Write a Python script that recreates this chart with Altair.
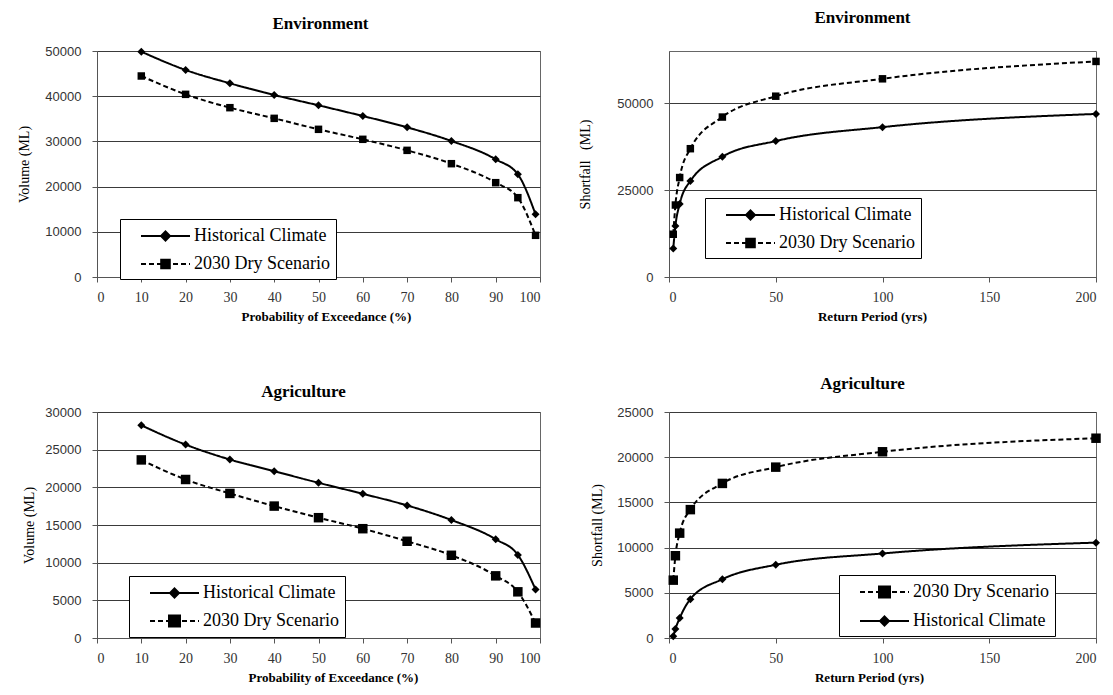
import altair as alt
import pandas as pd

# ---------------- data ----------------
HIST = "Historical Climate"
DRY = "2030 Dry Scenario"

# Probability of exceedance panels (%)
pe = [10, 20, 30, 40, 50, 60, 70, 80, 90, 95, 99]
env_hist = [49850, 45800, 42850, 40270, 37980, 35620, 33110, 30090, 26030, 22710, 13860]
env_dry = [44470, 40410, 37460, 35100, 32670, 30460, 28020, 25070, 20870, 17550, 9220]
agr_hist = [28230, 25670, 23690, 22140, 20600, 19140, 17600, 15660, 13100, 11030, 6440]
agr_dry = [23640, 21040, 19190, 17510, 15970, 14510, 12840, 10980, 8250, 6130, 1990]

# Return period panels (yrs)
rp = [2, 3, 5, 10, 25, 50, 100, 200]
env_sf_hist = [8200, 14700, 21000, 27600, 34600, 39100, 43100, 46900]
env_sf_dry = [12300, 20700, 28600, 36900, 46000, 52000, 57000, 62000]
agr_sf_hist = [180, 1000, 2200, 4300, 6500, 8100, 9350, 10550]
agr_sf_dry = [6400, 9100, 11600, 14200, 17100, 18900, 20600, 22100]

pe_ticks = [0, 10, 20, 30, 40, 50, 60, 70, 80, 90, 100]
rp_ticks = [0, 50, 100, 150, 200]


def frame(xs, hist, dry):
    rows = [{"x": x, "y": y, "s": HIST} for x, y in zip(xs, hist)]
    rows += [{"x": x, "y": y, "s": DRY} for x, y in zip(xs, dry)]
    return pd.DataFrame(rows)


# legend glyphs: a line segment with the series marker in its middle
# (units of 10 px; dashes of the dry line are drawn as separate sub-paths)
def legend_paths(sq_half):
    c, d = 2.85, 0.45
    hist_path = f"M0.4,0L5.3,0M{c},{-d}L{c + d},0L{c},{d}L{c - d},0Z"
    dashes = "M0.4,0L0.9,0M1.2,0L1.7,0M2.0,0L2.5,0M2.8,0L3.3,0M3.6,0L4.1,0M4.4,0L4.9,0M5.2,0L5.3,0"
    h = sq_half
    dry_path = (dashes + f"M{c - h:.3f},{-h:.3f}L{c + h:.3f},{-h:.3f}"
                f"L{c + h:.3f},{h:.3f}L{c - h:.3f},{h:.3f}Z")
    return hist_path, dry_path


def panel(df, title, title_offset, title_dx, xtitle, xtitle_x, xdomain, xticks,
          ytitle, ydomain, yticks, width, height, order, lx, ly, sq_size, sq_half, ytitle_pad):
    hist_path, dry_path = legend_paths(sq_half)
    x = alt.X("x:Q", title=xtitle,
              scale=alt.Scale(domain=xdomain, nice=False, zero=False),
              axis=alt.Axis(values=xticks, grid=False, titleX=xtitle_x))
    y = alt.Y("y:Q", title=ytitle,
              scale=alt.Scale(domain=ydomain, nice=False),
              axis=alt.Axis(values=yticks, grid=True, format="d", titlePadding=ytitle_pad))
    leg = alt.Legend(
        title=None, orient="none", legendX=lx, legendY=ly, direction="vertical",
        labelFont="Liberation Serif", labelFontSize=18, labelColor="black",
        labelOffset=46, labelLimit=400,
        symbolType={"expr": f"datum.value === '{HIST}' ? '{hist_path}' : '{dry_path}'"},
        symbolSize=400, symbolStrokeWidth=2,
        symbolFillColor="black", symbolStrokeColor="black", symbolOpacity=1,
        padding=6, rowPadding=8, strokeColor="black", fillColor="white",
    )
    base = alt.Chart(df)
    line = base.mark_line(interpolate="monotone", color="black").encode(
        x=x, y=y, detail="s:N",
        strokeDash=alt.condition(alt.datum.s == HIST, alt.value([1, 0]), alt.value([5, 3])),
        strokeWidth=alt.StrokeWidth(
            "s:N", scale=alt.Scale(domain=order, range=[2, 2]), legend=leg),
    )
    pts = base.mark_point(filled=True, color="black", opacity=1).encode(
        x=x, y=y,
        shape=alt.condition(alt.datum.s == HIST, alt.value("diamond"), alt.value("square")),
        size=alt.condition(alt.datum.s == HIST, alt.value(64), alt.value(sq_size)),
    )
    return alt.layer(line, pts).properties(
        width=width, height=height,
        title=alt.TitleParams(title, offset=title_offset, anchor="middle",
                              frame="group", dx=title_dx),
    )


W1, W2, H = 443, 427, 226

tl = panel(frame(pe, env_hist, env_dry), "Environment", 12, 2,
           "Probability of Exceedance (%)", 229, [0, 100], pe_ticks,
           "Volume (ML)", [0, 50000], [0, 10000, 20000, 30000, 40000, 50000],
           W1, H, [HIST, DRY], 23, 168, 56, 0.43, 13)
tr = panel(frame(rp, env_sf_hist, env_sf_dry), "Environment", 24, -20,
           "Return Period (yrs)", 203, [0, 200], rp_ticks,
           "Shortfall \u00a0 (ML)", [0, 65000], [0, 25000, 50000],
           W2, H, [HIST, DRY], 36, 147, 56, 0.43, 24)
bl = panel(frame(pe, agr_hist, agr_dry), "Agriculture", 5, -15,
           "Probability of Exceedance (%)", 236, [0, 100], pe_ticks,
           "Volume (ML)", [0, 30000], [0, 5000, 10000, 15000, 20000, 25000, 30000],
           W1, H, [HIST, DRY], 32, 164, 90, 0.55, 8)
br = panel(frame(rp, agr_sf_hist, agr_sf_dry), "Agriculture", 13, -20,
           "Return Period (yrs)", 200, [0, 200], rp_ticks,
           "Shortfall (ML)", [0, 25000], [0, 5000, 10000, 15000, 20000, 25000],
           W2, H, [DRY, HIST], 170, 163, 90, 0.55, 12)

chart = alt.concat(
    tl, tr, bl, br, columns=2, bounds="flush",
    spacing={"row": 135, "column": 129},
).resolve_scale(
    strokeWidth="independent",
).resolve_legend(
    strokeWidth="independent",
).properties(
    padding={"left": 9, "top": 0, "right": 0, "bottom": 0},
    background="white",
).configure_view(
    stroke="#666", strokeWidth=1,
).configure_title(
    font="Liberation Serif", fontSize=17, fontWeight="bold", color="black",
).configure_axisY(
    labelFont="Liberation Sans", labelFontSize=13, labelColor="#333",
    titleFont="Liberation Serif", titleFontSize=14, titleFontWeight="normal", titleColor="black",
    tickSize=5, tickColor="#555", domainColor="#555", gridColor="#3a3a3a", gridWidth=1,
    labelPadding=11,
).configure_axisX(
    labelFont="Liberation Serif", labelFontSize=14, labelColor="#333",
    titleFont="Liberation Serif", titleFontSize=13, titleFontWeight="bold", titleColor="black",
    tickSize=5, tickColor="#555", domainColor="#555",
    labelPadding=8, titlePadding=6,
)

chart.save("out.html", embed_options={"renderer": "svg", "actions": False})
